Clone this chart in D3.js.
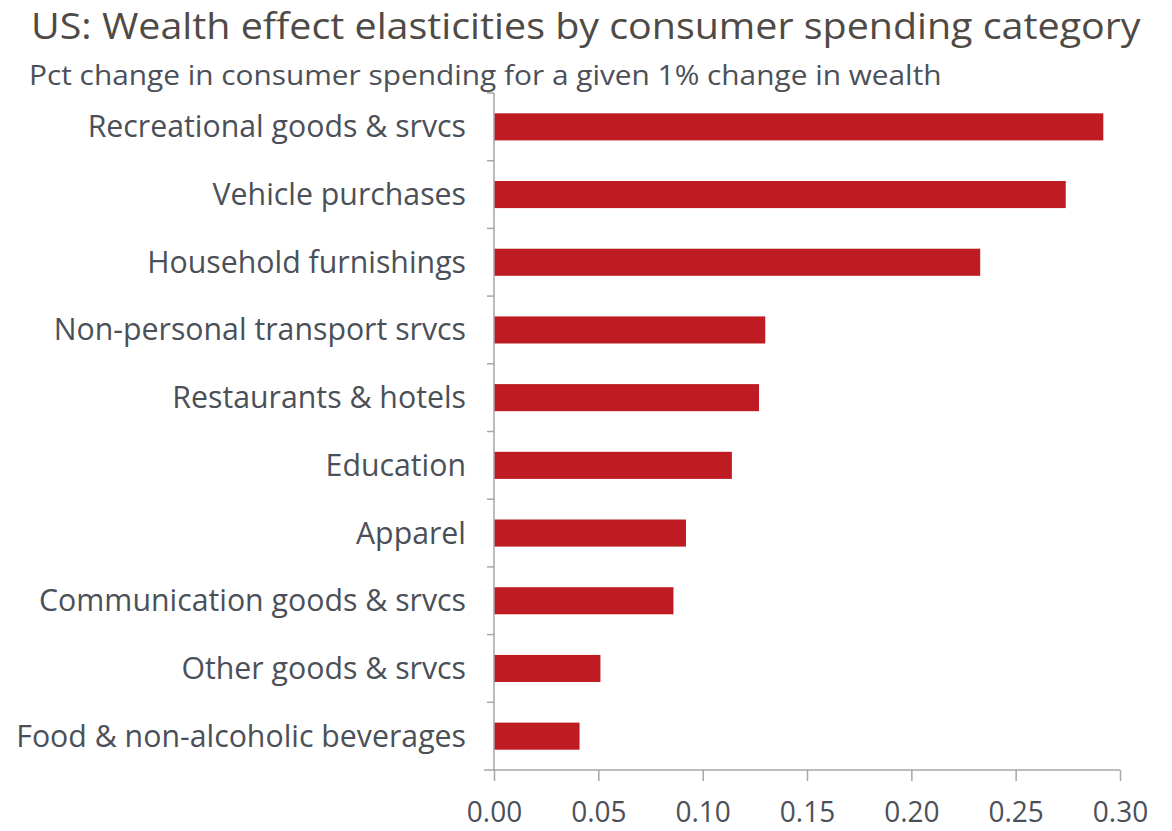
<!DOCTYPE html>
<html>
<head>
<meta charset="utf-8">
<script src="https://cdn.jsdelivr.net/npm/d3@7"></script>
<style>
  html, body { margin: 0; padding: 0; background: #fff; }
  svg { display: block; }
  text { font-family: "Open Sans", "Noto Sans", sans-serif; }
</style>
</head>
<body>
<svg id="chart" width="1172" height="831"></svg>
<script>
// Spending categories, top to bottom
const categories = [
  "Recreational goods & srvcs",
  "Vehicle purchases",
  "Household furnishings",
  "Non-personal transport srvcs",
  "Restaurants & hotels",
  "Education",
  "Apparel",
  "Communication goods & srvcs",
  "Other goods & srvcs",
  "Food & non-alcoholic beverages"
];
// Elasticity of spending to a 1% change in wealth
const elasticities = [0.292, 0.274, 0.233, 0.130, 0.127, 0.114, 0.092, 0.086, 0.051, 0.041];
const xTicks = [0, 0.05, 0.10, 0.15, 0.20, 0.25, 0.30];

const title = "US: Wealth effect elasticities by consumer spending category";
const subtitle = "Pct change in consumer spending for a given 1% change in wealth";

const svg = d3.select("#chart");
const plot = { left: 494, right: 1120, top: 93, bottom: 770 };
const CAP = 0.714; // cap height of the text face, in em

const x = d3.scaleLinear().domain([0, 0.30]).range([plot.left, plot.right]);
const y = d3.scaleBand().domain(categories).range([plot.top, plot.bottom])
  .paddingInner(0.6).paddingOuter(0.3);

const textCol = "#4b5058";
const axisCol = "#a6a6a6";

// Draw a line of text at a baseline, sized so it spans `width` and its
// capitals stand `cap` pixels tall (glyphs are stretched vertically as needed)
function label(parent, str, px, base, width, cap, anchor, fill) {
  const g = parent.append("g");
  const t = g.append("text").attr("font-size", 30).attr("text-anchor", anchor)
    .attr("fill", fill).text(str);
  const fs = 30 * width / t.node().getComputedTextLength();
  t.attr("font-size", fs.toFixed(2));
  const k = cap / (CAP * fs);
  g.attr("transform", `translate(${px},${base}) scale(1,${k.toFixed(3)})`);
  return fs;
}

label(svg, title, 31, 39, 1110, 26, "start", "#4f4a45");
label(svg, subtitle, 29, 85, 913, 20, "start", textCol);

// Bars
svg.append("g").selectAll("rect").data(categories).join("rect")
  .attr("x", x(0))
  .attr("y", d => y(d))
  .attr("width", (d, i) => x(elasticities[i]) - x(0))
  .attr("height", y.bandwidth())
  .attr("fill", "#be1b22");

// Y axis with ticks at the band boundaries
const gy = svg.append("g");
gy.append("line").attr("x1", plot.left).attr("x2", plot.left)
  .attr("y1", plot.top).attr("y2", plot.bottom)
  .attr("stroke", axisCol).attr("stroke-width", 1.5);
const step = y.step();
gy.selectAll("line.t").data(d3.range(categories.length)).join("line").attr("class", "t")
  .attr("x1", plot.left - 7).attr("x2", plot.left)
  .attr("y1", i => plot.top + i * step).attr("y2", i => plot.top + i * step)
  .attr("stroke", axisCol).attr("stroke-width", 1.5);

// Category labels: one shared font size, set by the longest label
const probe = gy.append("text").attr("font-size", 30).text(categories[categories.length - 1]);
const labelFs = 30 * 450 / probe.node().getComputedTextLength();
probe.remove();
const labelK = 22 / (CAP * labelFs);
gy.selectAll("g.lab").data(categories).join("g").attr("class", "lab")
  .attr("transform", d => `translate(466,${y(d) + y.bandwidth() / 2 + 10.5}) scale(1,${labelK.toFixed(3)})`)
  .append("text").attr("text-anchor", "end").attr("font-size", labelFs.toFixed(2))
  .attr("fill", textCol).text(d => d);

// X axis
const xAxis = d3.axisBottom(x).tickValues(xTicks).tickFormat(d3.format(".2f"))
  .tickSizeInner(11).tickSizeOuter(0);
const gx = svg.append("g").attr("transform", `translate(0,${plot.bottom})`).call(xAxis);
gx.select(".domain").attr("stroke", axisCol).attr("stroke-width", 1.5)
  .attr("d", `M${plot.left - 10},0H${plot.right}`);
gx.selectAll(".tick line").attr("stroke", axisCol).attr("stroke-width", 1.5);
const tickFs = 28;
const tickK = 21 / (CAP * tickFs);
gx.selectAll(".tick text")
  .attr("y", 0).attr("dy", null)
  .attr("transform", `translate(0,52) scale(1,${tickK.toFixed(3)})`)
  .attr("fill", textCol).attr("font-size", tickFs)
  .attr("font-family", "'Open Sans', 'Noto Sans', sans-serif");
</script>
</body>
</html>
